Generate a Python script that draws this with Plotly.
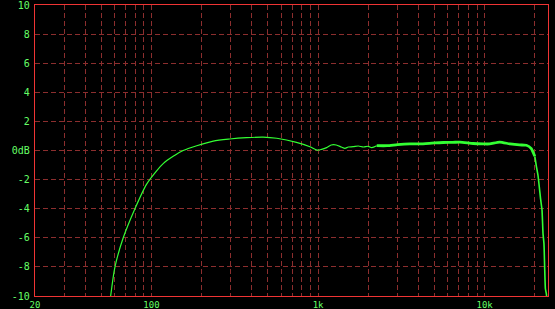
import plotly.graph_objects as go

# Frequency response (Hz, dB)
freq_low = [56.0, 56.9, 60.4, 67.7, 79.6, 93.6, 107.4, 117.6, 135, 155, 187, 235, 295, 372,
            468, 565, 742, 894, 985, 1050, 1125, 1200, 1285, 1380, 1450, 1520, 1625, 1745,
            1870, 2000, 2100, 2250]
db_low = [-10.6, -10.0, -8.0, -6.0, -4.0, -2.31, -1.4, -0.9, -0.4, 0.0, 0.33, 0.65, 0.79, 0.88,
          0.92, 0.84, 0.56, 0.26, 0.03, 0.08, 0.2, 0.38, 0.38, 0.24, 0.15, 0.24, 0.26, 0.31,
          0.24, 0.29, 0.2, 0.33]

freq_high = [2250, 2600, 3000, 3560, 4080, 5000, 5640, 6440, 7090, 8530, 9780, 10700, 12300,
             14200, 16200, 17800, 19000, 20000]
db_high = [0.33, 0.33, 0.4, 0.45, 0.45, 0.52, 0.55, 0.56, 0.58, 0.48, 0.45, 0.45, 0.58,
           0.45, 0.38, 0.36, 0.15, -0.4]

freq_drop = [20000, 20450, 20900, 21700, 22100, 22400, 22700, 22900, 23150, 23500, 23600]
db_drop = [-0.4, -1.1, -1.7, -3.4, -4.1, -5.7, -6.4, -7.9, -9.5, -9.9, -10.5]

x_grid = [20, 30, 40, 50, 60, 70, 80, 90, 100, 200, 300, 400, 500, 600, 700, 800, 900,
          1000, 2000, 3000, 4000, 5000, 6000, 7000, 8000, 9000, 10000, 20000]
x_labels = {20: "20", 100: "100", 1000: "1k", 10000: "10k"}
y_ticks = [-10, -8, -6, -4, -2, 0, 2, 4, 6, 8, 10]
y_labels = ["-10", "-8", "-6", "-4", "-2", "0dB", "2", "4", "6", "8", "10"]

green = "#33ff33"
fig = go.Figure()
fig.add_trace(go.Scatter(x=freq_low, y=db_low, mode="lines",
                         line=dict(color=green, width=1.2, shape="spline", smoothing=0.8),
                         showlegend=False))
fig.add_trace(go.Scatter(x=freq_high, y=db_high, mode="lines",
                         line=dict(color=green, width=2.8, shape="spline", smoothing=0.6),
                         showlegend=False))
fig.add_trace(go.Scatter(x=freq_drop, y=db_drop, mode="lines",
                         line=dict(color=green, width=1.6, shape="spline", smoothing=0.4),
                         showlegend=False))

grid_col = "#8c2e2e"
border_col = "#f03434"
font = dict(family="DejaVu Sans Mono", size=10, color="#66ff66")
xfont = dict(family="DejaVu Sans Mono", size=9, color="#66ff66")

fig.update_layout(
    width=555, height=309,
    margin=dict(l=35, r=7, t=5, b=13, autoexpand=False),
    paper_bgcolor="black", plot_bgcolor="black",
    font=font,
    xaxis=dict(type="log", range=[1.30103, 4.38021], automargin=False,
               ticklabeloverflow="allow",
               tickvals=x_grid, ticktext=[x_labels.get(v, "") for v in x_grid],
               showgrid=True, gridcolor=grid_col, gridwidth=1, griddash="5px,3px",
               showline=True, linecolor=border_col, linewidth=1.3, mirror=True,
               ticks="", zeroline=False, tickfont=xfont, ticklabelstandoff=0),
    yaxis=dict(range=[-10, 10], tickvals=y_ticks, ticktext=y_labels, automargin=False,
               ticklabeloverflow="allow",
               showgrid=True, gridcolor=grid_col, gridwidth=1, griddash="5px,3px",
               showline=True, linecolor=border_col, linewidth=1.3, mirror=True,
               ticks="", zeroline=False, tickfont=font, ticklabelstandoff=2),
)

fig.write_html("out.html")
